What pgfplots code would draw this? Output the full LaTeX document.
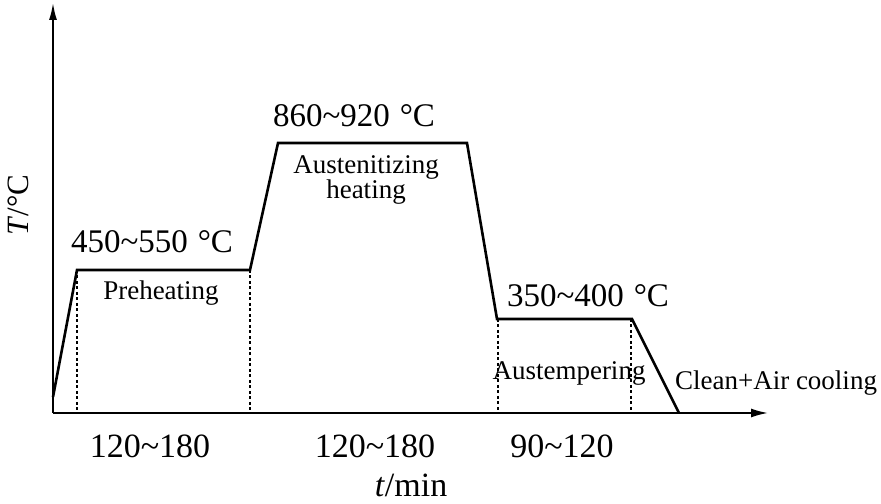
\documentclass[border=0pt]{standalone}
\usepackage{fontspec}
\setmainfont{Liberation Serif}
\usepackage{pgfplots}
\pgfplotsset{compat=1.18}
\usetikzlibrary{arrows.meta}
\begin{document}
\begin{tikzpicture}
\begin{axis}[
  scale only axis,
  width=715bp, height=410bp,
  xmin=53, xmax=768, ymin=0, ymax=410,
  axis lines=left,
  axis line style={line width=1.8bp},
  x axis line style={-{Latex[length=17bp,width=9bp]}},
  y axis line style={-{Latex[length=17bp,width=8bp]}},
  xtick=\empty, ytick=\empty,
  clip=false,
  every node/.style={inner sep=0pt},
]
% process curve
\addplot[black, line width=2.6bp, line join=miter] coordinates {
  (53,16) (77,143) (250,143) (278,270) (467,270) (497,94) (632,94) (679,0)
};
% dashed guides
\addplot[black, line width=1.6bp, dash pattern=on 3bp off 2.5bp] coordinates {(77,143) (77,0)};
\addplot[black, line width=1.6bp, dash pattern=on 3bp off 2.5bp] coordinates {(250,143) (250,0)};
\addplot[black, line width=1.6bp, dash pattern=on 3bp off 2.5bp] coordinates {(498,94) (498,0)};
\addplot[black, line width=1.2bp, dash pattern=on 3bp off 2.5bp] coordinates {(631,94) (631,0)};

\coordinate (bl) at (axis cs:0,-91);
\coordinate (tr) at (axis cs:881,413);

\begin{scope}[font=\fontsize{33bp}{40bp}\selectfont]
\node[anchor=base] at (axis cs:152,160) {450\textasciitilde550\kern0.3em\textdegree C};
\node[anchor=base] at (axis cs:354,286) {860\textasciitilde920\kern0.3em\textdegree C};
\node[anchor=base] at (axis cs:588,106) {350\textasciitilde400\kern0.3em\textdegree C};
\end{scope}
\begin{scope}[font=\fontsize{34bp}{40bp}\selectfont]
\node[anchor=base] at (axis cs:150,-45) {120\textasciitilde180};
\node[anchor=base] at (axis cs:375,-45) {120\textasciitilde180};
\node[anchor=base] at (axis cs:562,-45) {90\textasciitilde120};
\end{scope}
\begin{scope}[font=\fontsize{27bp}{32bp}\selectfont]
\node[anchor=base] at (axis cs:161,113) {Preheating};
\node[align=center, font=\fontsize{27bp}{23bp}\selectfont] at (axis cs:366,233) {Austenitizing\\heating};
\node[anchor=base] at (axis cs:569,33) {Austempering};
\node[anchor=base] at (axis cs:776,23) {Clean+Air cooling};
\end{scope}
\node[anchor=base, font=\fontsize{34bp}{40bp}\selectfont] at (axis cs:411,-84) {\textit{t}/min};
\node[rotate=90, font=\fontsize{31bp}{36bp}\selectfont] at (axis cs:18,208) {\textit{T}/\textdegree C};
\end{axis}
\pgfresetboundingbox
\path[use as bounding box] (bl) rectangle (tr);
\end{tikzpicture}
\end{document}
